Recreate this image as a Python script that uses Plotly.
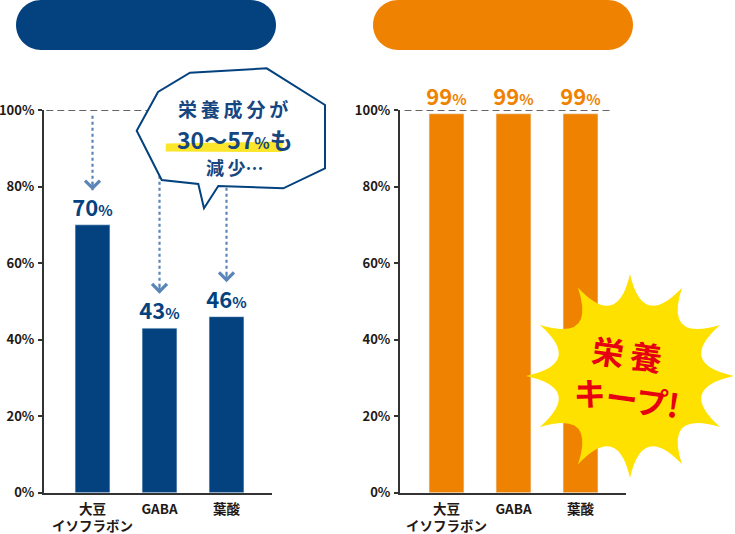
import math
import plotly.graph_objects as go

# ---------------- data ----------------
categories = ["大豆<br>イソフラボン", "GABA", "葉酸"]
before_values = [70, 43, 46]      # left chart (blue)
after_values = [99, 99, 99]       # right chart (orange)
y_ticks = [0, 20, 40, 60, 80, 100]
y_tick_labels = [f"{v}%" for v in y_ticks]
arrow_gap = 9                     # arrow tips end this many points above left bars

# ---------------- style ----------------
W, H = 735, 534
NAVY = "#03427f"
ORANGE = "#ef8200"
DARK = "#231815"
AXIS = "#333333"
FONT = "Noto Sans CJK JP"


def P(x, y):
    return f"{x / W:.5f},{1 - y / H:.5f}"


def pill(x0, y0, x1, y1):
    r = (y1 - y0) / 2
    cy = (y0 + y1) / 2
    k = 0.5523 * r
    return (f"M{P(x0 + r, y0)} L{P(x1 - r, y0)} "
            f"C{P(x1 - r + k, y0)} {P(x1, cy - k)} {P(x1, cy)} "
            f"C{P(x1, cy + k)} {P(x1 - r + k, y1)} {P(x1 - r, y1)} "
            f"L{P(x0 + r, y1)} "
            f"C{P(x0 + r - k, y1)} {P(x0, cy + k)} {P(x0, cy)} "
            f"C{P(x0, cy - k)} {P(x0 + r - k, y0)} {P(x0 + r, y0)} Z")


def poly(pts):
    return "M" + " L".join(P(x, y) for x, y in pts) + " Z"


def star(cx, cy, rx, ry, rc, n=12):
    s = ""
    for i in range(n):
        a = math.radians(i * 360 / n)
        tx, ty = cx + rx * math.cos(a), cy - ry * math.sin(a)
        if i == 0:
            s += f"M{P(tx, ty)} "
        b = math.radians(i * 360 / n + 180 / n)
        a2 = math.radians((i + 1) * 360 / n)
        ccx, ccy = cx + rc * math.cos(b), cy - rc * math.sin(b)
        nx, ny = cx + rx * math.cos(a2), cy - ry * math.sin(a2)
        s += f"Q{P(ccx, ccy)} {P(nx, ny)} "
    return s + "Z"


def spaced(s, sp="\u2009"):
    return sp.join(s)


fig = go.Figure()

pct_tpl = "%{y:.0f}<span style='font-size:15px'>%</span>"
fig.add_trace(go.Bar(
    x=categories, y=before_values, marker_color=NAVY, width=0.52,
    texttemplate=pct_tpl, textposition="outside", cliponaxis=False,
    constraintext="none",
    textfont=dict(family=FONT, size=22, color=NAVY, weight=700),
    xaxis="x", yaxis="y", showlegend=False, hoverinfo="skip"))
fig.add_trace(go.Bar(
    x=categories, y=after_values, marker_color=ORANGE, width=0.52,
    texttemplate=pct_tpl, textposition="outside", cliponaxis=False,
    constraintext="none",
    textfont=dict(family=FONT, size=22, color=ORANGE, weight=700),
    xaxis="x2", yaxis="y2", showlegend=False, hoverinfo="skip"))

ydom = [1 - 492.7 / H, 1 - 110 / H]
common_x = dict(type="category", showline=True, linecolor=AXIS, linewidth=2,
                showgrid=False, zeroline=False, ticks="", automargin=False,
                tickfont=dict(family=FONT, size=13.5, color=DARK, weight=700),
                ticklabelstandoff=3, fixedrange=True)
common_y = dict(range=[0, 100], tickmode="array", tickvals=y_ticks,
                ticktext=y_tick_labels,
                showline=True, linecolor=AXIS, linewidth=2, showgrid=False,
                zeroline=False, ticks="outside", ticklen=4, tickwidth=2,
                tickcolor=AXIS, automargin=False, domain=ydom,
                tickfont=dict(family=FONT, size=13, color=DARK, weight=700),
                ticklabelstandoff=1, fixedrange=True)

fig.update_layout(
    width=W, height=H, margin=dict(l=0, r=0, t=0, b=0),
    paper_bgcolor="white", plot_bgcolor="rgba(0,0,0,0)",
    xaxis=dict(common_x, domain=[44 / W, 272 / W], range=[-0.724, 2.679],
               anchor="y"),
    yaxis=dict(common_y, anchor="x"),
    xaxis2=dict(common_x, domain=[400 / W, 626 / W], range=[-0.694, 2.679],
                anchor="y2"),
    yaxis2=dict(common_y, anchor="x2"),
)

shapes = []
# header pills
shapes.append(dict(type="path", xref="paper", yref="paper",
                   path=pill(16, 0, 276, 50), fillcolor=NAVY, line_width=0))
shapes.append(dict(type="path", xref="paper", yref="paper",
                   path=pill(373, 0, 633, 50), fillcolor=ORANGE, line_width=0))
# 100% dashed reference lines
shapes.append(dict(type="line", xref="x domain", yref="y", x0=0.01, x1=1,
                   y0=100, y1=100, line=dict(color=AXIS, width=1.3, dash="7px,4px")))
shapes.append(dict(type="line", xref="x2 domain", yref="y2", x0=0.02,
                   x1=(613 - 400) / 226, y0=100, y1=100,
                   line=dict(color=AXIS, width=1.3, dash="7px,4px")))
# dotted arrows on left chart
for c, v in zip(categories, before_values):
    shapes.append(dict(type="line", xref="x", yref="y", x0=c, x1=c,
                       y0=98.5, y1=v + arrow_gap,
                       line=dict(color="#5a85b8", width=2.2, dash="dot")))
# speech bubble
bubble = [(136.7, 130.7), (158, 92), (190, 72.7), (266.7, 68.3), (325, 105),
          (325, 168.3), (283.3, 188.3), (218.3, 186), (204, 208.3),
          (198.3, 184), (161.7, 180)]
shapes.append(dict(type="path", xref="paper", yref="paper", path=poly(bubble),
                   fillcolor="white", line=dict(color=NAVY, width=2)))
# yellow highlight
shapes.append(dict(type="path", xref="paper", yref="paper",
                   path=poly([(166, 143.5), (283, 141.5), (282, 152), (165.5, 151.5)]),
                   fillcolor="#fce62c", line_width=0))
# starburst
shapes.append(dict(type="path", xref="paper", yref="paper",
                   path=star(630, 376, 104, 102, 48),
                   fillcolor="#ffe100", line_width=0))
fig.update_layout(shapes=shapes)

ann = []
# arrow heads
for c, v in zip(categories, before_values):
    ann.append(dict(x=c, y=v + arrow_gap, xref="x", yref="y", text="",
                    showarrow=True, ax=0, ay=-10, arrowhead=4, arrowsize=1.6,
                    arrowwidth=1.8, arrowcolor="#5a85b8"))
bt = dict(family=FONT, color="#15467f", weight=700)
common_a = dict(xref="paper", yref="paper", showarrow=False,
                xanchor="center", yanchor="middle")
ann.append(dict(common_a, x=233 / W, y=1 - 108 / H, text=spaced("栄養成分が"),
                font=dict(bt, size=19)))
ann.append(dict(common_a, x=235 / W, y=1 - 139 / H,
                text="30～57<span style='font-size:16px'>%</span>も",
                font=dict(bt, size=23)))
ann.append(dict(common_a, x=235 / W, y=1 - 167 / H, text=spaced("減少") + "…",
                font=dict(bt, size=18)))
rt = dict(family=FONT, color="#e60012", weight=700, size=32)
ann.append(dict(common_a, x=627 / W, y=1 - 353 / H, text=spaced("栄養"),
                textangle=8, font=rt))
ann.append(dict(common_a, x=627 / W, y=1 - 397 / H, text="キープ!",
                textangle=8, font=rt))
fig.update_layout(annotations=ann)

fig.write_html("out.html", config={"displayModeBar": False},
               post_script="document.body.style.margin='0';"
                           "document.body.style.overflow='hidden';")
